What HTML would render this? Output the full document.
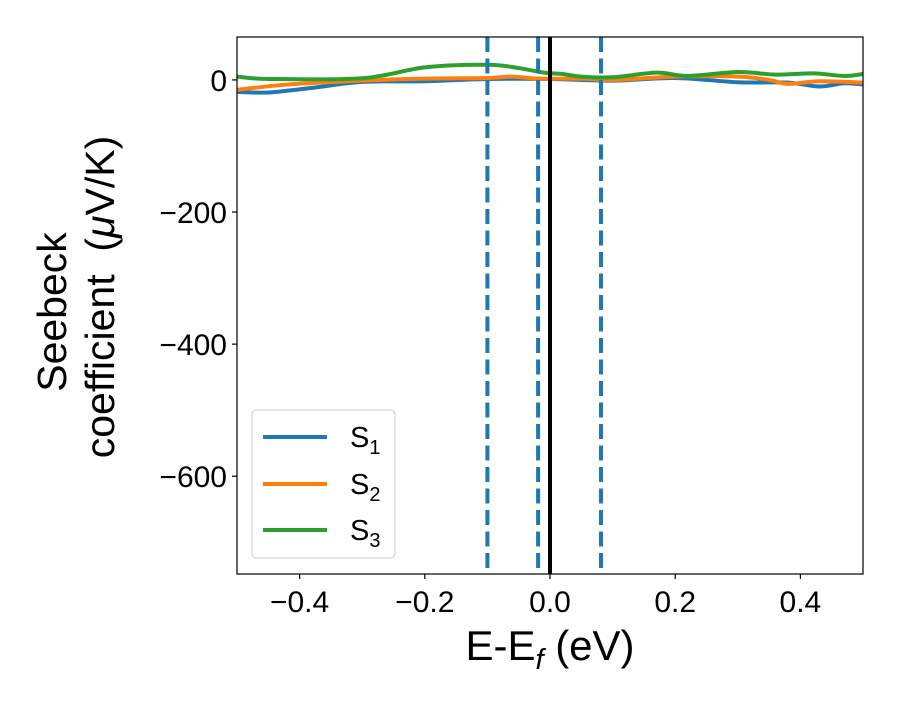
<!DOCTYPE html>
<html><head><meta charset="utf-8"><style>
body{margin:0;background:#fff;}
text{font-family:"Liberation Sans","DejaVu Sans",sans-serif;fill:#000;}
</style></head><body>
<svg id="chart" width="900" height="700" viewBox="0 0 900 700" xmlns="http://www.w3.org/2000/svg">
<rect width="900" height="700" fill="#fff"/>
<g id="plot"></g>
<g id="axes"></g>
</svg>
<script>
const xS1 = [-0.5,-0.45,-0.38,-0.3,-0.2,-0.1,0,0.1,0.2,0.3,0.38,0.43,0.47,0.5];
const yS1 = [-18,-19,-12,-3,-2,1.5,1.5,-1,3,-3.5,-4,-10,-5,-7];
const xS2 = [-0.5,-0.42,-0.3,-0.2,-0.1,-0.06,-0.02,0.05,0.1,0.2,0.3,0.35,0.38,0.43,0.5];
const yS2 = [-15,-7,-1,2,3,5,2,2,0,5,5,0,-6,-2,-4];
const xS3 = [-0.5,-0.45,-0.3,-0.2,-0.1,-0.05,-0.01,0.02,0.05,0.1,0.17,0.22,0.3,0.36,0.42,0.47,0.5];
const yS3 = [5,1.5,2.5,19,23,18,11,9,5,4,11,6,12,8,10,6,9];
const vlines = [-0.1,-0.019,0.0815];
const xTicks = [-0.4,-0.2,0.0,0.2,0.4];
const yTicks = [0,-200,-400,-600];
const L=237,R=863,T=37,B=574, X0=-0.5,X1=0.5, Y0=-748,Y1=65;
const sx=v=>L+(v-X0)/(X1-X0)*(R-L);
const sy=v=>B-(v-Y0)/(Y1-Y0)*(B-T);
const NS="http://www.w3.org/2000/svg";
const plot=document.getElementById('plot'), axes=document.getElementById('axes');
function mk(tag,attrs,parent){const e=document.createElementNS(NS,tag);for(const k in attrs)e.setAttribute(k,attrs[k]);parent.appendChild(e);return e;}
const cp=mk('clipPath',{id:'clip'},plot);mk('rect',{x:L,y:T,width:R-L,height:B-T},cp);
const g=mk('g',{'clip-path':'url(#clip)'},plot);
function smooth(xs,ys){const p=xs.map((x,i)=>[sx(x),sy(ys[i])]);let d='M'+p[0][0]+','+p[0][1];
for(let i=0;i<p.length-1;i++){const p0=p[i-1]||p[i],p1=p[i],p2=p[i+1],p3=p[i+2]||p2;
d+=` C${p1[0]+(p2[0]-p0[0])/6},${p1[1]+(p2[1]-p0[1])/6} ${p2[0]-(p3[0]-p1[0])/6},${p2[1]-(p3[1]-p1[1])/6} ${p2[0]},${p2[1]}`;}return d;}
const series=[[xS1,yS1,'#1f77b4','series-s1'],[xS2,yS2,'#ff7f0e','series-s2'],[xS3,yS3,'#2ca02c','series-s3']];
series.forEach(s=>{const e=mk('path',{d:smooth(s[0],s[1]),fill:'none',stroke:s[2],'stroke-width':4},g);

});
vlines.forEach(v=>{const e=mk('line',{x1:sx(v),x2:sx(v),y1:T,y2:B,stroke:'#1f77b4','stroke-width':4,'stroke-dasharray':'15,6.5'},g);

});
const zl=mk('line',{x1:sx(0),x2:sx(0),y1:T,y2:B,stroke:'#000','stroke-width':4},g);


const fr=mk('rect',{x:L,y:T,width:R-L,height:B-T,fill:'none',stroke:'#000','stroke-width':1.2},axes);


xTicks.forEach(v=>{const x=sx(v);mk('line',{x1:x,x2:x,y1:B,y2:B+5,stroke:'#000','stroke-width':1.2},axes);
const t=mk('text',{x:x,y:B+38,'text-anchor':'middle','font-size':30},axes);t.textContent=(v<0?'\u2212':'')+Math.abs(v).toFixed(1);

});
yTicks.forEach(v=>{const y=sy(v);mk('line',{x1:L-5,x2:L,y1:y,y2:y,stroke:'#000','stroke-width':1.2},axes);
const t=mk('text',{x:L-10,y:y+11,'text-anchor':'end','font-size':30},axes);t.textContent=(v<0?'\u2212':'')+Math.abs(v);

});
</script>
<svg style="position:absolute;left:0;top:0" width="900" height="700">
<text x="550" y="660" text-anchor="middle" font-size="42">E-E<tspan font-size="29" dy="9" font-style="italic">f</tspan><tspan dy="-9"> (eV)</tspan></text>
<text transform="translate(66,312) rotate(-90)" text-anchor="middle" font-size="41">Seebeck</text>
<text transform="translate(114,297) rotate(-90)" text-anchor="middle" font-size="41" xml:space="preserve">coefficient  (<tspan font-style="italic">μ</tspan>V/K)</text>
<g>
<rect x="252" y="410" width="143" height="148" rx="4" fill="#fff" fill-opacity="0.8" stroke="#ccc"/>
<line x1="263" x2="327" y1="437" y2="437" stroke="#1f77b4" stroke-width="4"/>
<text x="350" y="447" font-size="29">S<tspan font-size="20" dy="7">1</tspan></text>
<line x1="263" x2="327" y1="484" y2="484" stroke="#ff7f0e" stroke-width="4"/>
<text x="350" y="494" font-size="29">S<tspan font-size="20" dy="7">2</tspan></text>
<line x1="263" x2="327" y1="530" y2="530" stroke="#2ca02c" stroke-width="4"/>
<text x="350" y="540" font-size="29">S<tspan font-size="20" dy="7">3</tspan></text>
</g>
</svg>
</body></html>
